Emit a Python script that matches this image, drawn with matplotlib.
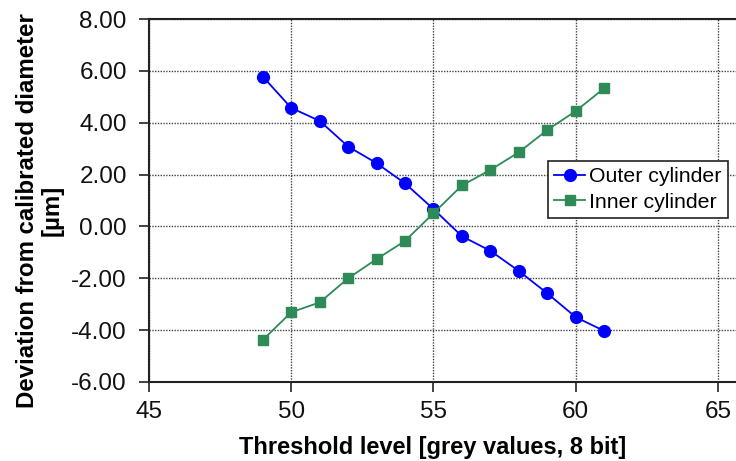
import numpy as np
import matplotlib
matplotlib.use("Agg")
import matplotlib.pyplot as plt

# threshold levels and deviations for the two cylinders
threshold = [49, 50, 51, 52, 53, 54, 55, 56, 57, 58, 59, 60, 61]
outer_dev = [5.78, 4.57, 4.07, 3.08, 2.44, 1.66, 0.67, -0.38, -0.94, -1.72, -2.58, -3.50, -4.03]
inner_dev = [-4.38, -3.31, -2.93, -2.00, -1.26, -0.56, 0.51, 1.58, 2.18, 2.86, 3.72, 4.45, 5.33]

xticks = [45, 50, 55, 60, 65]
yticks = [-6, -4, -2, 0, 2, 4, 6, 8]

plt.rcParams["font.family"] = ["Liberation Sans", "DejaVu Sans"]

fig = plt.figure(figsize=(7.36, 4.61), dpi=100)
ax = fig.add_axes([149/736, 79/461, 1 - 149/736, 363/461])

ax.plot(threshold, outer_dev, color="#0000ff", marker="o", markersize=8.5,
        linewidth=1.3, label="Outer cylinder", zorder=3)
ax.plot(threshold, inner_dev, color="#2e8b57", marker="s", markersize=7.5,
        linewidth=1.3, label="Inner cylinder", zorder=3)

ax.set_xlim(45, 45 + (736 - 149) / 28.45)
ax.set_ylim(-6, 8)
ax.set_xticks(xticks)
ax.set_yticks(yticks)
ax.yaxis.set_major_formatter(matplotlib.ticker.FormatStrFormatter("%.2f"))
ax.tick_params(direction="out", length=7, width=1.2, labelsize=17.5,
               color="#222222", labelcolor="#111111")
ax.tick_params(axis="y", pad=9)
ax.tick_params(axis="x", pad=7)

ax.grid(True, color="#444444", linestyle=(0, (1, 1)), linewidth=1.0)
ax.set_axisbelow(True)
ax.spines["right"].set_visible(False)
for s in ["left", "bottom", "top"]:
    ax.spines[s].set_linewidth(1.5)
    ax.spines[s].set_color("#222222")

ax.set_xlabel("Threshold level [grey values, 8 bit]", fontsize=17, fontweight="bold")
ax.xaxis.set_label_coords(0.484, -0.148)
ax.set_ylabel("Deviation from calibrated diameter\n[µm]", fontsize=17.3, fontweight="bold",
              linespacing=1.05)
ax.yaxis.set_label_coords(-0.146, 0.472)

leg = ax.legend(loc="upper left", bbox_to_anchor=(548/736, 1 - 161/461),
                bbox_transform=fig.transFigure, borderaxespad=0, fontsize=15.3,
                fancybox=False, framealpha=1, edgecolor="#222222",
                handlelength=1.45, handletextpad=0.2, borderpad=0.3, labelspacing=0.3)
leg.get_frame().set_linewidth(1.2)

fig.savefig("out.png", dpi=100)
